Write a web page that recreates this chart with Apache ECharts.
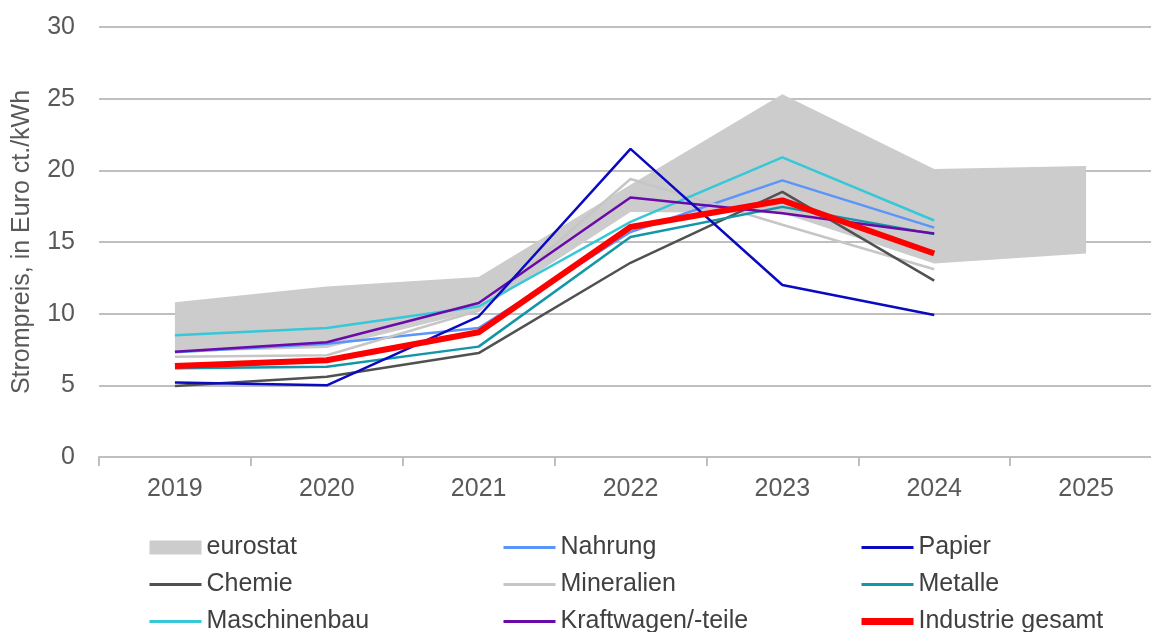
<!DOCTYPE html>
<html>
<head>
<meta charset="utf-8">
<script src="https://cdn.jsdelivr.net/npm/echarts@6/dist/echarts.min.js"></script>
<style>
  html, body { margin: 0; padding: 0; background: #fff; }
  #chart { width: 1151px; height: 632px; }
</style>
</head>
<body>
<div id="chart"></div>
<script>
const years = ["2019", "2020", "2021", "2022", "2023", "2024", "2025"];

// eurostat band (lower / upper edge)
const eurostatLow = [7.3, 7.6, 10.2, 17.1, 17.0, 13.5, 14.2];
const eurostatHigh = [10.8, 11.9, 12.55, 19.0, 25.3, 20.1, 20.3];

const nahrung = [7.3, 7.9, 9.0, 15.7, 19.3, 16.0];
const papier = [5.2, 5.0, 9.8, 21.5, 12.0, 9.9];
const chemie = [4.95, 5.6, 7.25, 13.55, 18.5, 12.3];
const mineralien = [7.0, 7.1, 10.2, 19.4, 16.2, 13.1];
const metalle = [6.2, 6.3, 7.7, 15.35, 17.45, 15.55];
const maschinenbau = [8.5, 9.0, 10.5, 16.4, 20.9, 16.5];
const kraftwagen = [7.35, 8.0, 10.75, 18.1, 17.0, 15.6];
const industrie = [6.35, 6.75, 8.7, 16.05, 17.9, 14.2];

const bandWidth = eurostatHigh.map((v, i) => +(v - eurostatLow[i]).toFixed(2));

const textFont = "Liberation Sans";

function lineSeries(name, data, color, width) {
  return {
    name: name,
    type: "line",
    data: data,
    symbol: "none",
    lineStyle: { color: color, width: width || 2.5 },
    itemStyle: { color: color },
    emphasis: { disabled: true }
  };
}

// one legend per column, so the layout is 3 x 3 like the original
function legendCol(left, names) {
  return {
    orient: "vertical",
    left: left,
    top: 535,
    height: 140,
    padding: 0,
    itemWidth: 52,
    itemHeight: 14,
    itemGap: 12,
    itemStyle: { opacity: 0 },
    lineStyle: { width: 3 },
    textStyle: { fontFamily: textFont, fontSize: 25, color: "#404040" },
    data: names
  };
}

const chart = echarts.init(document.getElementById("chart"));
chart.setOption({
  animation: false,
  grid: { left: 99, width: 1063, top: 27, bottom: 175, containLabel: false, outerBoundsMode: "none" },
  legend: [
    legendCol(148, [
      { name: "eurostat", icon: "rect", itemStyle: { color: "#cccccc", opacity: 1 } },
      "Chemie",
      "Maschinenbau"
    ]),
    legendCol(502, ["Nahrung", "Mineralien", "Kraftwagen/-teile"]),
    legendCol(858, ["Papier", "Metalle", { name: "Industrie gesamt", lineStyle: { width: 7 } }])
  ],
  xAxis: {
    type: "category",
    data: years,
    axisLine: { lineStyle: { color: "#bfbfbf", width: 2 } },
    axisTick: { show: true, length: 9, lineStyle: { color: "#bfbfbf", width: 2 } },
    axisLabel: { fontFamily: textFont, fontSize: 25, color: "#595959", margin: 20 }
  },
  yAxis: {
    type: "value",
    min: 0,
    max: 30,
    interval: 5,
    name: "Strompreis, in Euro ct./kWh",
    nameLocation: "middle",
    nameGap: 64,
    nameTextStyle: { fontFamily: textFont, fontSize: 25, color: "#595959" },
    axisLine: { show: false },
    axisTick: { show: false },
    axisLabel: { fontFamily: textFont, fontSize: 25, color: "#595959", margin: 24 },
    splitLine: { lineStyle: { color: "#bfbfbf", width: 2 } }
  },
  series: [
    {
      name: "eurostatLow",
      type: "line",
      stack: "band",
      data: eurostatLow,
      symbol: "none",
      lineStyle: { opacity: 0 },
      emphasis: { disabled: true }
    },
    {
      name: "eurostat",
      type: "line",
      stack: "band",
      data: bandWidth,
      symbol: "none",
      lineStyle: { opacity: 0 },
      areaStyle: { color: "#cccccc", opacity: 1 },
      itemStyle: { color: "#cccccc" },
      emphasis: { disabled: true }
    },
    lineSeries("Nahrung", nahrung, "#5b95fa"),
    lineSeries("Mineralien", mineralien, "#c6c6c6"),
    lineSeries("Chemie", chemie, "#515151"),
    lineSeries("Metalle", metalle, "#1396a8"),
    lineSeries("Maschinenbau", maschinenbau, "#36c8d8"),
    lineSeries("Kraftwagen/-teile", kraftwagen, "#6a0aa8"),
    lineSeries("Papier", papier, "#0a0ac2"),
    lineSeries("Industrie gesamt", industrie, "#ff0000", 6)
  ]
});
</script>
</body>
</html>
